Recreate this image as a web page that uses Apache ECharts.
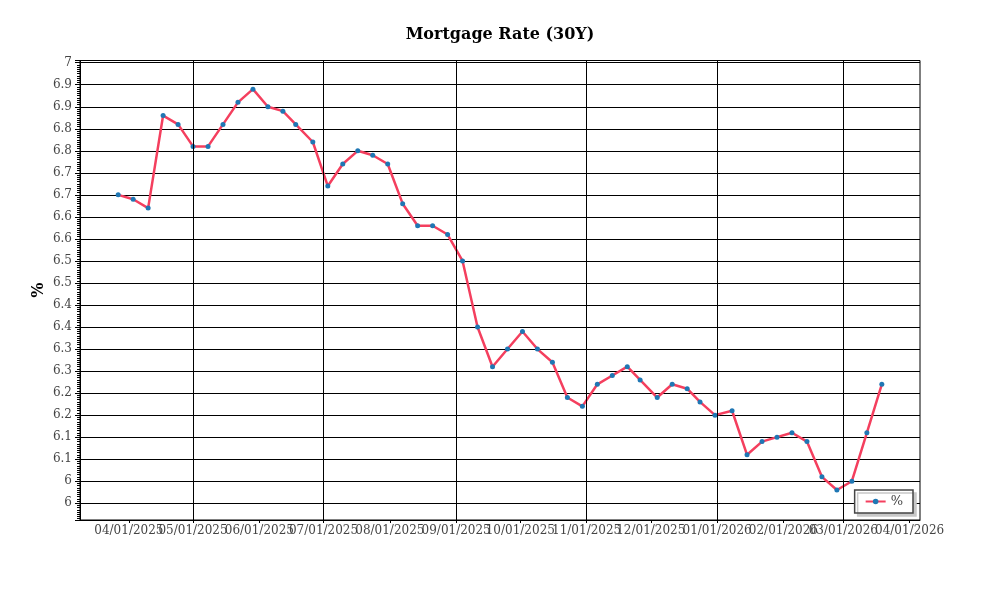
<!DOCTYPE html>
<html>
<head>
<meta charset="utf-8">
<title>Mortgage Rate (30Y)</title>
<script src="https://cdn.jsdelivr.net/npm/echarts@6/dist/echarts.min.js"></script>
<style>
  html, body { margin: 0; padding: 0; background: #fff; }
  #chart { width: 1000px; height: 600px; }
</style>
</head>
<body>
<div id="chart"></div>
<script>
// weekly dates (Thursdays, a couple of Wednesdays around holidays)
var dates = [
  '2025-03-27', '2025-04-03', '2025-04-10', '2025-04-17', '2025-04-24',
  '2025-05-01', '2025-05-08', '2025-05-15', '2025-05-22', '2025-05-29',
  '2025-06-05', '2025-06-12', '2025-06-18', '2025-06-26',
  '2025-07-03', '2025-07-10', '2025-07-17', '2025-07-24', '2025-07-31',
  '2025-08-07', '2025-08-14', '2025-08-21', '2025-08-28',
  '2025-09-04', '2025-09-11', '2025-09-18', '2025-09-25',
  '2025-10-02', '2025-10-09', '2025-10-16', '2025-10-23', '2025-10-30',
  '2025-11-06', '2025-11-13', '2025-11-20', '2025-11-26',
  '2025-12-04', '2025-12-11', '2025-12-18', '2025-12-24', '2025-12-31',
  '2026-01-08', '2026-01-15', '2026-01-22', '2026-01-29',
  '2026-02-05', '2026-02-12', '2026-02-19', '2026-02-26',
  '2026-03-05', '2026-03-12', '2026-03-19'
];
// 30Y rate, %
var rates = [
  6.65, 6.64, 6.62, 6.83, 6.81,
  6.76, 6.76, 6.81, 6.86, 6.89,
  6.85, 6.84, 6.81, 6.77,
  6.67, 6.72, 6.75, 6.74, 6.72,
  6.63, 6.58, 6.58, 6.56,
  6.50, 6.35, 6.26, 6.30,
  6.34, 6.30, 6.27, 6.19, 6.17,
  6.22, 6.24, 6.26, 6.23,
  6.19, 6.22, 6.21, 6.18, 6.15,
  6.16, 6.06, 6.09, 6.10,
  6.11, 6.09, 6.01, 5.98,
  6.00, 6.11, 6.22
];
// x labels (every month) and vertical grid lines (every other month)
var monthTicks = [
  '2025-04-01', '2025-05-01', '2025-06-01', '2025-07-01', '2025-08-01',
  '2025-09-01', '2025-10-01', '2025-11-01', '2025-12-01', '2026-01-01',
  '2026-02-01', '2026-03-01', '2026-04-01'
];
var gridMonths = ['2025-05-01', '2025-07-01', '2025-09-01', '2025-11-01', '2026-01-01', '2026-03-01'];
var yMin = 5.912, yMax = 6.955;

var serif = 'DejaVu Serif';

var t0 = +echarts.time.parse(dates[0]);
var t1 = +echarts.time.parse(dates[dates.length - 1]);
var pad = (t1 - t0) * 0.05;

var chart = echarts.init(document.getElementById('chart'), null, {renderer: 'canvas'});
var option = {
    animation: false,
    backgroundColor: '#fff',
    title: {
        text: 'Mortgage Rate (30Y)',
        left: 'center',
        top: 22,
        textStyle: {fontFamily: serif, fontWeight: 'bold', fontSize: 16, color: '#000'}
    },
    legend: {
        data: ['%'],
        right: 87,
        bottom: 87,
        orient: 'vertical',
        padding: [5, 10],
        itemWidth: 20,
        itemHeight: 7,
        backgroundColor: '#fff',
        borderColor: '#444',
        borderWidth: 1.5,
        borderRadius: 0,
        shadowColor: '#c8c8c8',
        shadowBlur: 0,
        shadowOffsetX: 3,
        shadowOffsetY: 3,
        textStyle: {fontFamily: serif, fontSize: 13, color: '#444'}
    },
    grid: {
        left: 80, right: 80, top: 60.5, bottom: 80,
        show: true, borderColor: '#000', borderWidth: 1, backgroundColor: 'transparent'
    },
    xAxis: {
        type: 'time',
        min: t0 - pad,
        max: t1 + pad,
        axisLine: {show: true, lineStyle: {color: '#000', width: 1}},
        axisTick: {show: true, length: 3, lineStyle: {color: '#000'}, customValues: monthTicks},
        axisLabel: {
            customValues: monthTicks,
            formatter: '{MM}/{dd}/{yyyy}',
            fontFamily: serif, fontSize: 12, color: '#444', margin: 5,
            hideOverlap: false
        },
        splitLine: {show: false}
    },
    yAxis: {
        type: 'value',
        min: yMin,
        max: yMax,
        splitNumber: 20,
        minInterval: 0.05,
        maxInterval: 0.05,
        name: '%',
        nameLocation: 'middle',
        nameRotate: 90,
        nameGap: 33,
        nameMoveOverlap: false,
        nameTextStyle: {fontFamily: serif, fontWeight: 'bold', fontSize: 16, color: '#000'},
        axisLine: {show: true, lineStyle: {color: '#000', width: 1}},
        axisTick: {show: true, length: 5, lineStyle: {color: '#000'}},
        minorTick: {show: true, splitNumber: 10, length: 3, lineStyle: {color: '#000'}},
        axisLabel: {
            fontFamily: serif, fontSize: 12, color: '#444', margin: 8,
            formatter: function (v) {
                if (Math.abs(v * 20 - Math.round(v * 20)) > 1e-6) return '';
                return String(Math.round(v * 10 + 1e-6) / 10);
            }
        },
        splitLine: {show: true, lineStyle: {color: '#000', width: 1}}
    },
    series: [
        {
            name: 'grid',
            type: 'line',
            data: [],
            z: 1,
            silent: true,
            markLine: {
                silent: true,
                symbol: 'none',
                label: {show: false},
                lineStyle: {color: '#000', width: 1, type: 'solid'},
                data: gridMonths.map(function (d) { return {xAxis: d}; })
            }
        },
        {
            name: '%',
            type: 'line',
            z: 3,
            data: dates.map(function (d, i) { return [d, rates[i]]; }),
            symbol: 'circle',
            symbolSize: 5,
            itemStyle: {color: '#1f77b4'},
            lineStyle: {color: '#f43f5e', width: 2.5}
        }
    ]
};
chart.setOption(option);
</script>
</body>
</html>
